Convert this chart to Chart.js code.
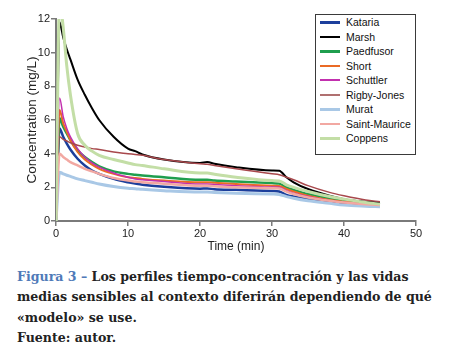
<!DOCTYPE html>
<html><head><meta charset="utf-8">
<script src="https://cdn.jsdelivr.net/npm/chart.js@4/dist/chart.umd.min.js"></script>
<style>
html,body{margin:0;padding:0;background:#fff;width:450px;height:352px;overflow:hidden}
#wrap{position:relative;width:450px;height:352px}
#c{position:absolute;left:0;top:0}
#legend{position:absolute;left:315px;top:14px;width:99px;height:139px;border:1px solid #3a3a3a;background:#fff;font-family:"Liberation Sans",Arial,sans-serif;font-size:10.5px;color:#111}
.item{position:absolute;left:0;height:14px;width:99px}
.sw{position:absolute;left:4px;width:20px;top:50%;}
.lab{position:absolute;left:30px;top:0;line-height:14px;white-space:nowrap}
#caption{position:absolute;left:17px;top:267px;font-family:"DejaVu Serif",serif;font-weight:bold;color:#222;line-height:20.4px;white-space:nowrap}
#caption .fig{color:#4f7ab8}
</style></head>
<body><div id="wrap">
<canvas id="c" width="450" height="256"></canvas>
<div id="legend"></div>
<div id="caption">
<div id="l1"><span class="fig">Figura 3 –</span> Los perfiles tiempo-concentración y las vidas</div>
<div id="l2">medias sensibles al contexto diferirán dependiendo de qué</div>
<div id="l3">«modelo» se use.</div>
<div id="l4">Fuente: autor.</div>
</div>
</div>
<script>
// ---- data ----
const times = [0, 0.5, 1, 1.5, 2, 3, 4, 5, 6, 8, 10, 11, 12, 15, 20, 21, 22, 25, 30, 31, 32, 33, 35, 38, 40, 43, 45];
const seriesNames = ["Kataria","Marsh","Paedfusor","Short","Schuttler","Rigby-Jones","Murat","Saint-Maurice","Coppens"];
const kataria      = [0, 5.5, 5.0, 4.6, 4.25, 3.7, 3.3, 3.0, 2.8, 2.5, 2.3, 2.22, 2.15, 2.03, 1.92, 1.93, 1.89, 1.85, 1.78, 1.75, 1.55, 1.45, 1.3, 1.1, 1.02, 0.95, 0.9];
const marsh        = [0, 11.8, 10.9, 10.2, 9.6, 8.4, 7.5, 6.7, 6.0, 5.0, 4.3, 4.15, 3.95, 3.65, 3.45, 3.5, 3.4, 3.2, 3.0, 2.98, 2.6, 2.3, 1.9, 1.5, 1.3, 1.15, 1.1];
const paedfusor    = [0, 6.1, 5.6, 5.2, 4.8, 4.2, 3.8, 3.5, 3.25, 2.95, 2.8, 2.75, 2.7, 2.6, 2.45, 2.45, 2.4, 2.35, 2.25, 2.22, 2.0, 1.85, 1.6, 1.35, 1.2, 1.05, 1.0];
const shortS       = [0, 6.6, 5.8, 5.3, 4.8, 4.1, 3.65, 3.35, 3.1, 2.8, 2.6, 2.55, 2.5, 2.4, 2.3, 2.3, 2.27, 2.2, 2.1, 2.08, 1.9, 1.75, 1.5, 1.25, 1.15, 1.0, 0.95];
const schuttler    = [0, 7.3, 6.2, 5.5, 5.0, 4.3, 3.8, 3.45, 3.2, 2.85, 2.6, 2.5, 2.45, 2.35, 2.2, 2.2, 2.17, 2.1, 2.02, 2.0, 1.8, 1.65, 1.45, 1.2, 1.1, 1.0, 0.95];
const rigbyJones   = [0, 5.0, 4.85, 4.75, 4.65, 4.5, 4.4, 4.3, 4.25, 4.1, 4.0, 3.95, 3.9, 3.65, 3.4, 3.37, 3.3, 3.1, 2.8, 2.75, 2.6, 2.45, 2.1, 1.7, 1.5, 1.25, 1.15];
const murat        = [0, 2.9, 2.8, 2.72, 2.65, 2.5, 2.4, 2.3, 2.2, 2.05, 1.95, 1.92, 1.88, 1.8, 1.72, 1.72, 1.7, 1.65, 1.6, 1.58, 1.45, 1.35, 1.2, 1.05, 0.95, 0.88, 0.85];
const saintMaurice = [0, 4.0, 3.8, 3.65, 3.5, 3.3, 3.1, 2.95, 2.8, 2.55, 2.4, 2.35, 2.3, 2.22, 2.1, 2.1, 2.07, 2.0, 1.95, 1.93, 1.75, 1.6, 1.4, 1.2, 1.1, 1.0, 0.95];
const coppens      = [0, 13, 11.5, 9.2, 7.5, 5.2, 4.5, 4.15, 3.9, 3.65, 3.45, 3.35, 3.3, 3.1, 2.85, 2.85, 2.78, 2.6, 2.4, 2.38, 2.15, 2.0, 1.75, 1.45, 1.3, 1.1, 1.0];
const xTicks = [0, 10, 20, 30, 40, 50];
const yTicks = [0, 2, 4, 6, 8, 10, 12];

// ---- styles ----
const allSeries = [kataria, marsh, paedfusor, shortS, schuttler, rigbyJones, murat, saintMaurice, coppens];
const colors = ["#1c3f9c","#000000","#1f9e4e","#ea6a25","#c230ae","#a8484c","#a9c8e6","#f2a8a2","#c3dea6"];
const legendColors = ["#1c3f9c","#000000","#1f9e4e","#ea6a25","#c230ae","#b07070","#a9c8e6","#f2a8a2","#c3dea6"];
const widths = [2.5, 2, 2.5, 2, 1.5, 1.5, 3, 2.5, 3];

const datasets = allSeries.map((arr, i) => ({
  label: seriesNames[i],
  data: times.map((t, j) => ({x: t, y: arr[j]})),
  borderColor: colors[i],
  borderWidth: widths[i],
  pointRadius: 0,
  fill: false,
  cubicInterpolationMode: 'monotone',
  order: allSeries.length - i
}));

const axisColor = '#7a7a7a';
const tickFont = {family: '"Liberation Sans", Arial, sans-serif', size: 11};

new Chart(document.getElementById('c'), {
  type: 'line',
  data: {datasets},
  options: {
    responsive: false, animation: false, devicePixelRatio: 1,
    layout: {padding: {top: 19, right: 34, left: 0, bottom: 0}},
    plugins: {legend: {display: false}, tooltip: {enabled: false}},
    scales: {
      x: {
        type: 'linear', min: 0, max: 50,
        afterBuildTicks: s => { s.ticks = xTicks.map(v => ({value: v})); },
        afterFit: s => { s.height = 35; },
        grid: {drawOnChartArea: false, drawTicks: true, tickLength: 5, color: axisColor, lineWidth: 1.5},
        border: {display: true, color: axisColor, width: 2},
        ticks: {font: tickFont, color: '#222', padding: 1, maxRotation: 0},
        title: {display: true, text: 'Time (min)', font: {family: '"Liberation Sans", Arial, sans-serif', size: 12}, color: '#222', padding: {top: 0, bottom: 2}}
      },
      y: {
        min: 0, max: 12,
        afterBuildTicks: s => { s.ticks = yTicks.map(v => ({value: v})); },
        afterFit: s => { s.width = 56; },
        grid: {drawOnChartArea: false, drawTicks: true, tickLength: 5, color: axisColor, lineWidth: 1.5},
        border: {display: true, color: axisColor, width: 2},
        ticks: {font: tickFont, color: '#222', padding: 1},
        title: {display: true, text: 'Concentration (mg/L)', font: {family: '"Liberation Sans", Arial, sans-serif', size: 13.5}, color: '#222', padding: {top: 24, bottom: 0}}
      }
    }
  }
});

// ---- legend (HTML) ----
const leg = document.getElementById('legend');
seriesNames.forEach((n, i) => {
  const it = document.createElement('div');
  it.className = 'item';
  it.style.top = (0.3 + 14.5 * i) + 'px';
  const sw = document.createElement('div');
  sw.className = 'sw';
  sw.style.height = Math.max(2, widths[i]) + 'px';
  sw.style.marginTop = (-Math.max(2, widths[i]) / 2) + 'px';
  sw.style.background = legendColors[i];
  const lb = document.createElement('div');
  lb.className = 'lab';
  lb.textContent = n;
  it.appendChild(sw); it.appendChild(lb);
  leg.appendChild(it);
});

// ---- caption font fit ----
const mctx = document.createElement('canvas').getContext('2d');
mctx.font = 'bold 20px "DejaVu Serif"';
const w20 = mctx.measureText(document.getElementById('l2').textContent).width;
const fs = 20 * 415 / w20;
document.getElementById('caption').style.fontSize = fs.toFixed(2) + 'px';
</script>
</body></html>
